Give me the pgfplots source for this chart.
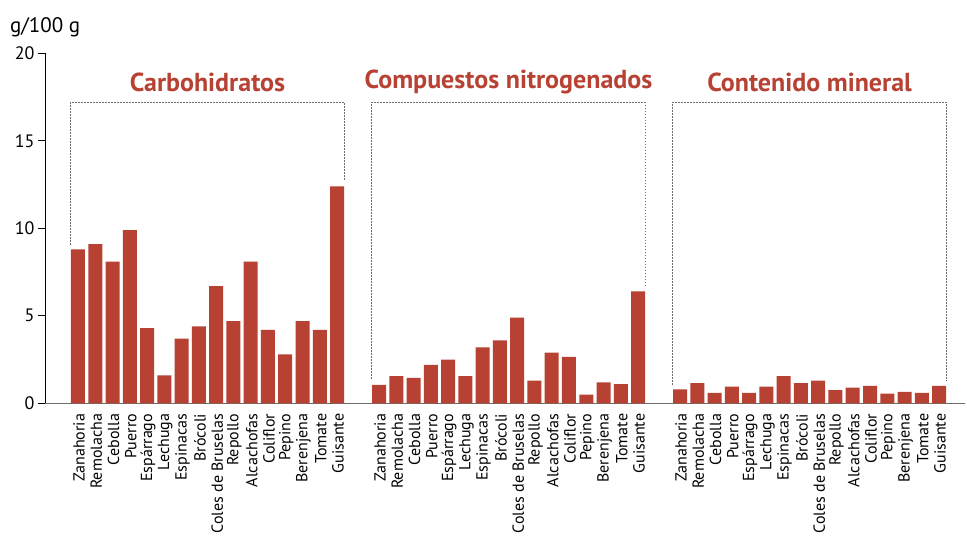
\documentclass[border=0pt]{standalone}
\usepackage{fontspec}
\setmainfont{PT Sans}
\usepackage{pgfplots}
\usepackage{pgfplotstable}
\pgfplotsset{compat=1.18}
\definecolor{barred}{RGB}{183,65,51}
\definecolor{axisgray}{RGB}{110,110,110}

% x = group*17.43 + index
\pgfplotstableread[col sep=comma]{
x,y,name
0,8.8,Zanahoria
1,9.1,Remolacha
2,8.1,Cebolla
3,9.9,Puerro
4,4.3,Espárrago
5,1.6,Lechuga
6,3.7,Espinacas
7,4.4,Brócoli
8,6.7,Coles de Bruselas
9,4.7,Repollo
10,8.1,Alcachofas
11,4.2,Coliflor
12,2.8,Pepino
13,4.7,Berenjena
14,4.2,Tomate
15,12.4,Guisante
17.43,1.05,Zanahoria
18.43,1.55,Remolacha
19.43,1.45,Cebolla
20.43,2.2,Puerro
21.43,2.5,Espárrago
22.43,1.55,Lechuga
23.43,3.2,Espinacas
24.43,3.6,Brócoli
25.43,4.9,Coles de Bruselas
26.43,1.3,Repollo
27.43,2.9,Alcachofas
28.43,2.65,Coliflor
29.43,0.5,Pepino
30.43,1.2,Berenjena
31.43,1.1,Tomate
32.43,6.4,Guisante
34.86,0.8,Zanahoria
35.86,1.15,Remolacha
36.86,0.6,Cebolla
37.86,0.95,Puerro
38.86,0.6,Espárrago
39.86,0.95,Lechuga
40.86,1.55,Espinacas
41.86,1.15,Brócoli
42.86,1.3,Coles de Bruselas
43.86,0.75,Repollo
44.86,0.9,Alcachofas
45.86,1.0,Coliflor
46.86,0.55,Pepino
47.86,0.65,Berenjena
48.86,0.6,Tomate
49.86,1.0,Guisante
}\veg

\begin{document}
\begin{tikzpicture}
\begin{axis}[
  scale only axis,
  width=920pt, height=350pt,
  xmin=-1.91, xmax=51.36,
  ymin=0, ymax=20,
  axis x line=bottom, axis y line=left,
  axis line style={-},
  x axis line style={axisgray, line width=1.2pt},
  y axis line style={black, line width=0.8pt},
  ytick={0,5,10,15,20},
  ytick style={black, line width=0.8pt},
  tick align=outside,
  major tick length=7pt,
  xtick=data,
  xticklabels from table={\veg}{name},
  xtick style={draw=none},
  x tick label style={rotate=90, anchor=east, font=\fontsize{16}{16}\selectfont, yshift=-1pt},
  y tick label style={font=\fontsize{18}{18}\selectfont},
  /pgf/number format/assume math mode=true,
  clip=false,
]
\addplot[ybar, bar width=14pt, fill=barred, draw=none] table[x=x, y=y] {\veg};

% dotted brackets and group titles
\tikzset{bracket/.style={axisgray, line width=1pt, dash pattern=on 1.5pt off 1.5pt}}
\draw[bracket]
  (axis cs:-0.41,9.05) |- (axis cs:15.41,17.2) -- (axis cs:15.41,12.7);
\draw[bracket]
  (axis cs:17.02,1.4) |- (axis cs:32.84,17.2) -- (axis cs:32.84,6.65);
\draw[bracket]
  (axis cs:34.45,1.05) |- (axis cs:50.27,17.2) -- (axis cs:50.27,1.3);

\node[text=barred, font=\fontsize{26}{26}\selectfont\bfseries] at (axis cs:7.5,18.35) {Carbohidratos};
\node[text=barred, font=\fontsize{26}{26}\selectfont\bfseries] at (axis cs:24.93,18.35) {Compuestos nitrogenados};
\node[text=barred, font=\fontsize{26}{26}\selectfont\bfseries] at (axis cs:42.36,18.35) {Contenido mineral};

\node[anchor=base west, font=\fontsize{21}{21}\selectfont, inner sep=0pt] at (-35pt,371pt) {g/100 g};
\end{axis}
\pgfresetboundingbox
\path (-45pt,-136.7pt) rectangle (922pt,403.3pt);
\end{tikzpicture}
\end{document}
